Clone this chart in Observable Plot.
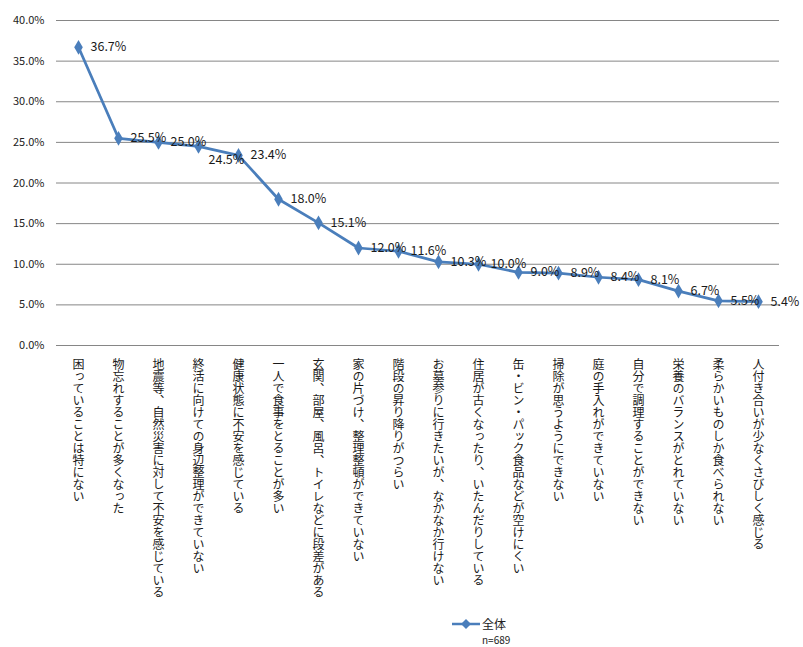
<!DOCTYPE html>
<html><head><meta charset="utf-8">
<script src="https://cdn.jsdelivr.net/npm/d3@7"></script>
<script src="https://cdn.jsdelivr.net/npm/@observablehq/plot@0.6"></script>
<style>
body{margin:0;background:#fff;font-family:"Noto Sans CJK JP",sans-serif;}
#wrap{position:relative;width:803px;height:647px;}
#legend{position:absolute;left:450px;top:614px;font-size:12px;line-height:14px;color:#222;}
#legend .n{position:absolute;left:32px;top:20px;font-size:10px;line-height:11px;white-space:nowrap;}
</style>
</head><body>
<div id="wrap"><div id="chart"></div>
<div id="legend">
<svg width="32" height="20" style="vertical-align:middle"><line x1="2" y1="10" x2="30" y2="10" stroke="#4a7ebb" stroke-width="2.5"/><path d="M16,5 L21,10 L16,15 L11,10Z" fill="#4a7ebb"/></svg><span style="vertical-align:middle">全体</span>
<div class="n">n=689</div>
</div>
</div>
<script>
const categories = [
"困っていることは特にない",
"物忘れすることが多くなった",
"地震等、自然災害に対して不安を感じている",
"終活に向けての身辺整理ができていない",
"健康状態に不安を感じている",
"一人で食事をとることが多い",
"玄関、部屋、風呂、トイレなどに段差がある",
"家の片づけ、整理整頓ができていない",
"階段の昇り降りがつらい",
"お墓参りに行きたいが、なかなか行けない",
"住居が古くなったり、いたんだりしている",
"缶・ビン・パック食品などが空けにくい",
"掃除が思うようにできない",
"庭の手入れができていない",
"自分で調理することができない",
"栄養のバランスがとれていない",
"柔らかいものしか食べられない",
"人付き合いが少なくさびしく感じる"
];
const values = [36.7,25.5,25.0,24.5,23.4,18.0,15.1,12.0,11.6,10.3,10.0,9.0,8.9,8.4,8.1,6.7,5.5,5.4];
const yTicks = [0,5,10,15,20,25,30,35,40];

const data = categories.map((c,i)=>({cat:c, v:values[i], i}));
const color = "#4a7ebb";

const chart = Plot.plot({
  width: 803,
  height: 612,
  marginTop: 20,
  marginBottom: 267,
  marginLeft: 56,
  marginRight: 24,
  style: {fontFamily: '"Noto Sans CJK JP", sans-serif', color: "#222"},
  x: {type: "point", domain: categories, padding: 0.5, axis: null},
  y: {domain: [0, 40], ticks: yTicks, label: null},
  marks: [
    Plot.gridY(yTicks, {stroke: "#868686", strokeOpacity: 1, strokeWidth: 1}),
    Plot.axisY(yTicks, {tickSize: 0, tickPadding: 12, label: null, tickFormat: d => d.toFixed(1) + "%", fontSize: 11, fill: "#222"}),
    Plot.line(data, {x: "cat", y: "v", stroke: color, strokeWidth: 2.75}),
    Plot.dot(data, {x: "cat", y: "v", symbol: "diamond", r: 4.5, fill: color}),
    Plot.text(data.filter(d => d.i !== 3), {x: "cat", y: "v", text: d => d.v.toFixed(1) + "%", dx: 12, textAnchor: "start", fontSize: 12.5, fill: "#1a1a1a"}),
    Plot.text(data.filter(d => d.i === 3), {x: "cat", y: "v", text: d => d.v.toFixed(1) + "%", dx: 10, dy: 14, textAnchor: "start", fontSize: 12.5, fill: "#1a1a1a"}),
    Plot.text(data, {x: "cat", y: () => 0, text: "cat", dy: 9, textAnchor: "start", lineAnchor: "middle", fontSize: 12, fill: "#1a1a1a", className: "vlabel"})
  ]
});
document.getElementById("chart").appendChild(chart);
chart.querySelectorAll(".vlabel text").forEach(t => {
  t.style.writingMode = "vertical-rl";
  t.removeAttribute("dy");
});
</script>
</body></html>
